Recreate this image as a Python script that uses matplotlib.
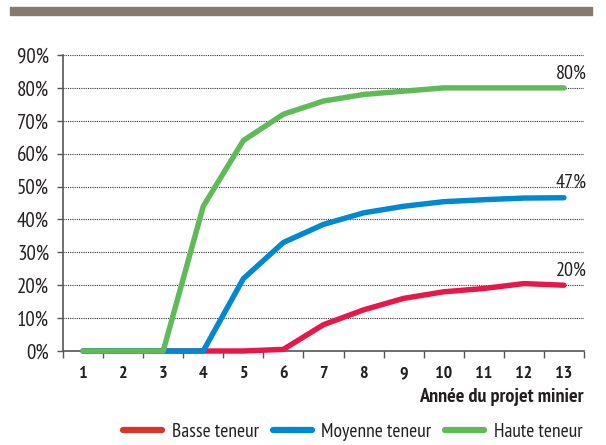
import numpy as np
import matplotlib.pyplot as plt
from matplotlib.lines import Line2D

years = list(range(1, 14))
basse = [0, 0, 0, 0, 0, 0.5, 8, 12.5, 16, 18, 19, 20.5, 20]
moyenne = [0, 0, 0, 0, 22, 33, 38.5, 42, 44, 45.4, 46, 46.5, 46.6]
haute = [0, 0, 0, 44, 64, 72, 76, 78, 79, 80, 80, 80, 80]
end_labels = ['20%', '47%', '80%']
series_names = ['Basse teneur', 'Moyenne teneur', 'Haute teneur']
line_colors = ['#E8174A', '#0088D0', '#5EBB56']
legend_colors = ['#D93427', '#0088D0', '#5EBB56']

FONT = ['PT Sans Narrow', 'DejaVu Sans']
plt.rcParams['font.family'] = FONT
TXT = '#231F20'

W, H = 606, 445
fig = plt.figure(figsize=(W / 100, H / 100), dpi=100)

# grey band at top
fig.patches.append(plt.Rectangle((10 / W, 1 - 15 / H), 582 / W, 8 / H,
                                 transform=fig.transFigure, color='#857A70'))

ax = fig.add_axes([63 / W, 1 - 351 / H, 521 / W, 296 / H])
x = np.arange(len(years))
for vals, c in zip([basse, moyenne, haute], line_colors):
    ax.plot(x, vals, color=c, lw=3.9, solid_capstyle='round',
            solid_joinstyle='round', zorder=3, clip_on=False)

for vals, lab in zip([basse, moyenne, haute], end_labels):
    ax.annotate(lab, (x[-1], vals[-1]), xytext=(5, 4), textcoords='offset points',
                ha='center', va='bottom', fontsize=14.5, color=TXT)

ax.set_xlim(-0.5, len(years) - 0.5)
ax.set_ylim(0, 90)
ax.set_yticks(np.arange(0, 91, 10))
ax.set_yticklabels([f'{v}%' for v in range(0, 91, 10)], fontsize=15, color=TXT)
ax.yaxis.grid(True, linestyle=(0, (1, 1)), color='#333333', lw=0.8)
ax.set_axisbelow(True)

ax.set_xticks(x)
ax.set_xticklabels([str(y) for y in years], fontsize=13, fontweight='bold', color=TXT)
ax.set_xticks(np.arange(-0.5, len(years), 1), minor=True)
ax.tick_params(axis='x', which='major', length=0, pad=11)
ax.tick_params(axis='x', which='minor', length=5, color='#555555', width=1)
ax.tick_params(axis='y', length=4, color='#555555', width=1, pad=6)

for s in ['top', 'right']:
    ax.spines[s].set_visible(False)
for s in ['left', 'bottom']:
    ax.spines[s].set_color('#555555')
    ax.spines[s].set_linewidth(1.2)

fig.text(584 / W, 1 - 397 / H, 'Année du projet minier', ha='right', va='center',
         fontsize=14.5, fontweight='bold', color=TXT)

handles = [Line2D([0], [0], color=c, lw=4.5, solid_capstyle='round') for c in legend_colors]
fig.legend(handles, series_names, loc='center right', bbox_to_anchor=(590 / W, 1 - 432 / H),
           ncol=3, frameon=False, fontsize=14, handlelength=2.0, columnspacing=0.7,
           handletextpad=0.5, borderaxespad=0, labelcolor=TXT)

fig.savefig('out.png', dpi=100)
